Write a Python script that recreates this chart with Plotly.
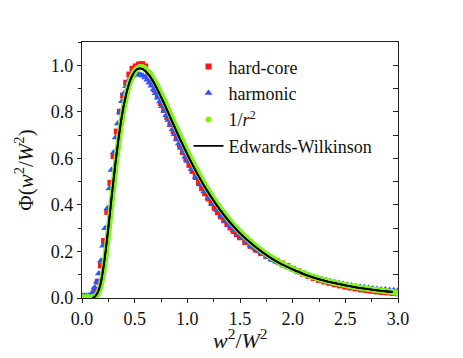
import plotly.graph_objects as go

# reduced width distribution
hc_x = [0.00, 0.03, 0.06, 0.09, 0.12, 0.15, 0.18, 0.21, 0.24, 0.27, 0.30, 0.33, 0.36, 0.39, 0.42,
        0.45, 0.48, 0.51, 0.54, 0.57, 0.60, 0.63, 0.66, 0.69, 0.72, 0.75, 0.78, 0.81, 0.84, 0.87,
        0.90, 0.93, 0.96, 0.99, 1.02, 1.05, 1.08, 1.11, 1.14, 1.17, 1.20, 1.23, 1.26, 1.29, 1.32,
        1.35, 1.38, 1.41, 1.44, 1.47, 1.50, 1.55, 1.60, 1.65, 1.70, 1.75, 1.80, 1.85, 1.90, 1.95,
        2.00, 2.05, 2.10, 2.15, 2.20, 2.25, 2.30, 2.35, 2.40, 2.45, 2.50, 2.55, 2.60, 2.65, 2.70,
        2.75, 2.80, 2.85, 2.90, 2.95, 3.00]
hc_y = [0.003, 0.003, 0.003, 0.005, 0.035, 0.07, 0.14, 0.245, 0.37, 0.495, 0.61, 0.715, 0.80, 0.87, 0.925,
        0.96, 0.985, 0.995, 1.003, 1.005, 0.995, 0.965, 0.925, 0.895, 0.866, 0.838, 0.808, 0.778, 0.747, 0.717,
        0.686, 0.656, 0.627, 0.599, 0.572, 0.546, 0.520, 0.496, 0.472, 0.450, 0.428, 0.408, 0.388, 0.369, 0.351,
        0.334, 0.318, 0.303, 0.288, 0.274, 0.261, 0.241, 0.224, 0.208, 0.193, 0.180, 0.168, 0.158, 0.148, 0.137,
        0.126, 0.115, 0.105, 0.095, 0.086, 0.078, 0.071, 0.065, 0.059, 0.054, 0.049, 0.045, 0.041, 0.037, 0.034,
        0.031, 0.028, 0.026, 0.024, 0.022, 0.020]

harm_x = [0.00, 0.02, 0.04, 0.06, 0.08, 0.10, 0.12, 0.14, 0.16, 0.18, 0.20, 0.22, 0.24, 0.26, 0.28,
          0.30, 0.32, 0.34, 0.36, 0.38, 0.40, 0.42, 0.44, 0.46, 0.48, 0.50, 0.52, 0.54, 0.56, 0.58,
          0.60, 0.62, 0.64, 0.66, 0.68, 0.70, 0.72, 0.74, 0.76, 0.78, 0.80, 0.82, 0.84, 0.86, 0.88,
          0.90, 0.92, 0.94, 0.96, 0.98, 1.00, 1.04, 1.08, 1.12, 1.16, 1.20, 1.24, 1.28, 1.32, 1.36,
          1.40, 1.44, 1.48, 1.52, 1.56, 1.60, 1.64, 1.68, 1.72, 1.76, 1.80, 1.84, 1.88, 1.92, 1.96,
          2.00, 2.04, 2.08, 2.12, 2.16, 2.20, 2.24, 2.28, 2.32, 2.36, 2.40, 2.44, 2.48, 2.52, 2.56,
          2.60, 2.64, 2.68, 2.72, 2.76, 2.80, 2.84, 2.88, 2.92, 2.96, 3.00]
harm_y = [0.010, 0.010, 0.010, 0.010, 0.012, 0.025, 0.045, 0.07, 0.105, 0.16, 0.225, 0.30, 0.385, 0.47, 0.55,
          0.625, 0.69, 0.75, 0.80, 0.845, 0.88, 0.91, 0.93, 0.945, 0.955, 0.96, 0.962, 0.96, 0.958, 0.955,
          0.947, 0.938, 0.926, 0.912, 0.896, 0.880, 0.862, 0.844, 0.824, 0.805, 0.785, 0.765, 0.744, 0.724, 0.704,
          0.684, 0.664, 0.645, 0.626, 0.607, 0.589, 0.554, 0.520, 0.488, 0.458, 0.429, 0.403, 0.378, 0.354, 0.332,
          0.311, 0.291, 0.273, 0.257, 0.241, 0.227, 0.213, 0.200, 0.188, 0.176, 0.166, 0.157, 0.148, 0.139, 0.131,
          0.123, 0.116, 0.109, 0.103, 0.097, 0.091, 0.086, 0.081, 0.076, 0.072, 0.068, 0.064, 0.060, 0.057, 0.054,
          0.051, 0.048, 0.046, 0.043, 0.041, 0.039, 0.037, 0.036, 0.034, 0.033, 0.032]

inv_x = [0.00, 0.05, 0.10, 0.125, 0.15, 0.175, 0.20, 0.225, 0.25, 0.275, 0.30, 0.325, 0.35, 0.375, 0.40,
         0.425, 0.45, 0.475, 0.50, 0.525, 0.55, 0.575, 0.60, 0.65, 0.70, 0.75, 0.80, 0.85, 0.90, 0.95,
         1.00, 1.10, 1.20, 1.30, 1.40, 1.50, 1.60, 1.70, 1.80, 1.90, 2.00, 2.20, 2.40, 2.60, 2.80, 3.00]
inv_y = [0.003, 0.003, 0.003, 0.006, 0.018, 0.048, 0.105, 0.185, 0.28, 0.385, 0.49, 0.59, 0.68, 0.76, 0.826,
         0.88, 0.922, 0.952, 0.973, 0.986, 0.992, 0.991, 0.985, 0.960, 0.922, 0.877, 0.828, 0.777, 0.726, 0.677,
         0.629, 0.540, 0.461, 0.393, 0.334, 0.284, 0.242, 0.205, 0.174, 0.147, 0.125, 0.090, 0.065, 0.047, 0.034, 0.022]

ew_x = [0.10, 0.125, 0.15, 0.175, 0.20, 0.225, 0.25, 0.275, 0.30, 0.325, 0.35, 0.375, 0.40, 0.425, 0.45,
        0.475, 0.50, 0.525, 0.55, 0.575, 0.60, 0.65, 0.70, 0.75, 0.80, 0.85, 0.90, 0.95, 1.00, 1.05,
        1.10, 1.20, 1.30, 1.40, 1.50, 1.60, 1.70, 1.80, 1.90, 2.00, 2.10, 2.20, 2.30, 2.40, 2.50,
        2.60, 2.70, 2.80, 2.90, 2.95]
ew_y = [0.000, 0.007, 0.024, 0.058, 0.120, 0.203, 0.300, 0.406, 0.510, 0.606, 0.695, 0.772, 0.835, 0.886, 0.926,
        0.954, 0.973, 0.984, 0.987, 0.984, 0.976, 0.949, 0.910, 0.864, 0.815, 0.764, 0.713, 0.664, 0.617, 0.572,
        0.529, 0.452, 0.385, 0.327, 0.278, 0.237, 0.201, 0.170, 0.144, 0.123, 0.104, 0.088, 0.075, 0.064, 0.054,
        0.046, 0.039, 0.033, 0.028, 0.026]

RED = '#ff1414'
BLUE = '#2f55ff'
GREEN = '#80f020'
AXIS = '#222222'
FONT = 'Liberation Serif, Times New Roman, DejaVu Serif, serif'

fig = go.Figure()

fig.add_trace(go.Scatter(
    x=hc_x, y=hc_y, name='hard-core', mode='markers',
    marker=dict(symbol='square', size=6, color=RED),
))
fig.add_trace(go.Scatter(
    x=harm_x, y=harm_y, name='harmonic', mode='markers',
    marker=dict(symbol='triangle-up', size=7, color=BLUE),
))
# 1/r^2 points are so dense they form a band: draw the band, then the points for the legend
fig.add_trace(go.Scatter(
    x=inv_x, y=inv_y, mode='lines', showlegend=False, hoverinfo='skip',
    line=dict(color=GREEN, width=6, shape='spline'),
))
fig.add_trace(go.Scatter(
    x=inv_x, y=inv_y, name='1/<i>r</i><sup>2</sup>', mode='markers',
    marker=dict(symbol='circle', size=6, color=GREEN),
))
fig.add_trace(go.Scatter(
    x=ew_x, y=ew_y, name='Edwards-Wilkinson', mode='lines',
    line=dict(color='black', width=1.8, shape='spline'),
))
# right-hand frame with inward ticks, carried by a copy of the EW curve
fig.add_trace(go.Scatter(
    x=ew_x, y=ew_y, yaxis='y2', mode='lines', showlegend=False, hoverinfo='skip',
    line=dict(color='black', width=1.8, shape='spline'),
))

axis_common = dict(
    showgrid=False, zeroline=False, showline=True, linecolor=AXIS, linewidth=1.2,
    ticks='outside', ticklen=4, tickwidth=1.2, tickcolor=AXIS,
    tickfont=dict(family=FONT, size=18, color='#111'),
)

# page body adds an 8px offset, so margins are shifted to compensate
fig.update_layout(
    width=463, height=358,
    margin=dict(l=74, r=73, t=34, b=68),
    paper_bgcolor='white', plot_bgcolor='white',
    font=dict(family=FONT, color='#111'),
    showlegend=True,
    legend=dict(
        x=0.337, y=0.975, xanchor='left', yanchor='top',
        bgcolor='rgba(0,0,0,0)', font=dict(family=FONT, size=18, color='#111'),
        tracegroupgap=0,
    ),
    xaxis=dict(
        **axis_common, range=[0, 3], dtick=0.5, tickformat='.1f', mirror=True,
        minor=dict(ticks='outside', ticklen=3, dtick=0.25, tickcolor=AXIS),
    ),
    yaxis=dict(
        **axis_common, range=[0, 1.1], dtick=0.2, tickformat='.1f', mirror=False,
        minor=dict(ticks='outside', ticklen=3, dtick=0.1, tickcolor=AXIS),
        title=dict(text='Φ(<i>w</i><sup>2</sup>/<i>W</i><sup>2</sup>)',
                   font=dict(family=FONT, size=21, color='#111'), standoff=11),
    ),
    yaxis2=dict(
        overlaying='y', side='right', anchor='x', range=[0, 1.1],
        tickmode='linear', tick0=0, dtick=0.1,
        showgrid=False, zeroline=False, showticklabels=False,
        showline=True, linecolor=AXIS, linewidth=1.2,
        ticks='inside', ticklen=5, tickwidth=1.4, tickcolor=AXIS,
    ),
    annotations=[dict(
        text='<i>w</i><sup>2</sup>/<i>W</i><sup>2</sup>',
        xref='paper', yref='paper', x=0.5, y=-0.16, xanchor='center', yanchor='middle',
        showarrow=False, font=dict(family=FONT, size=22, color='#111'),
    )],
)

fig.write_html('out.html')
